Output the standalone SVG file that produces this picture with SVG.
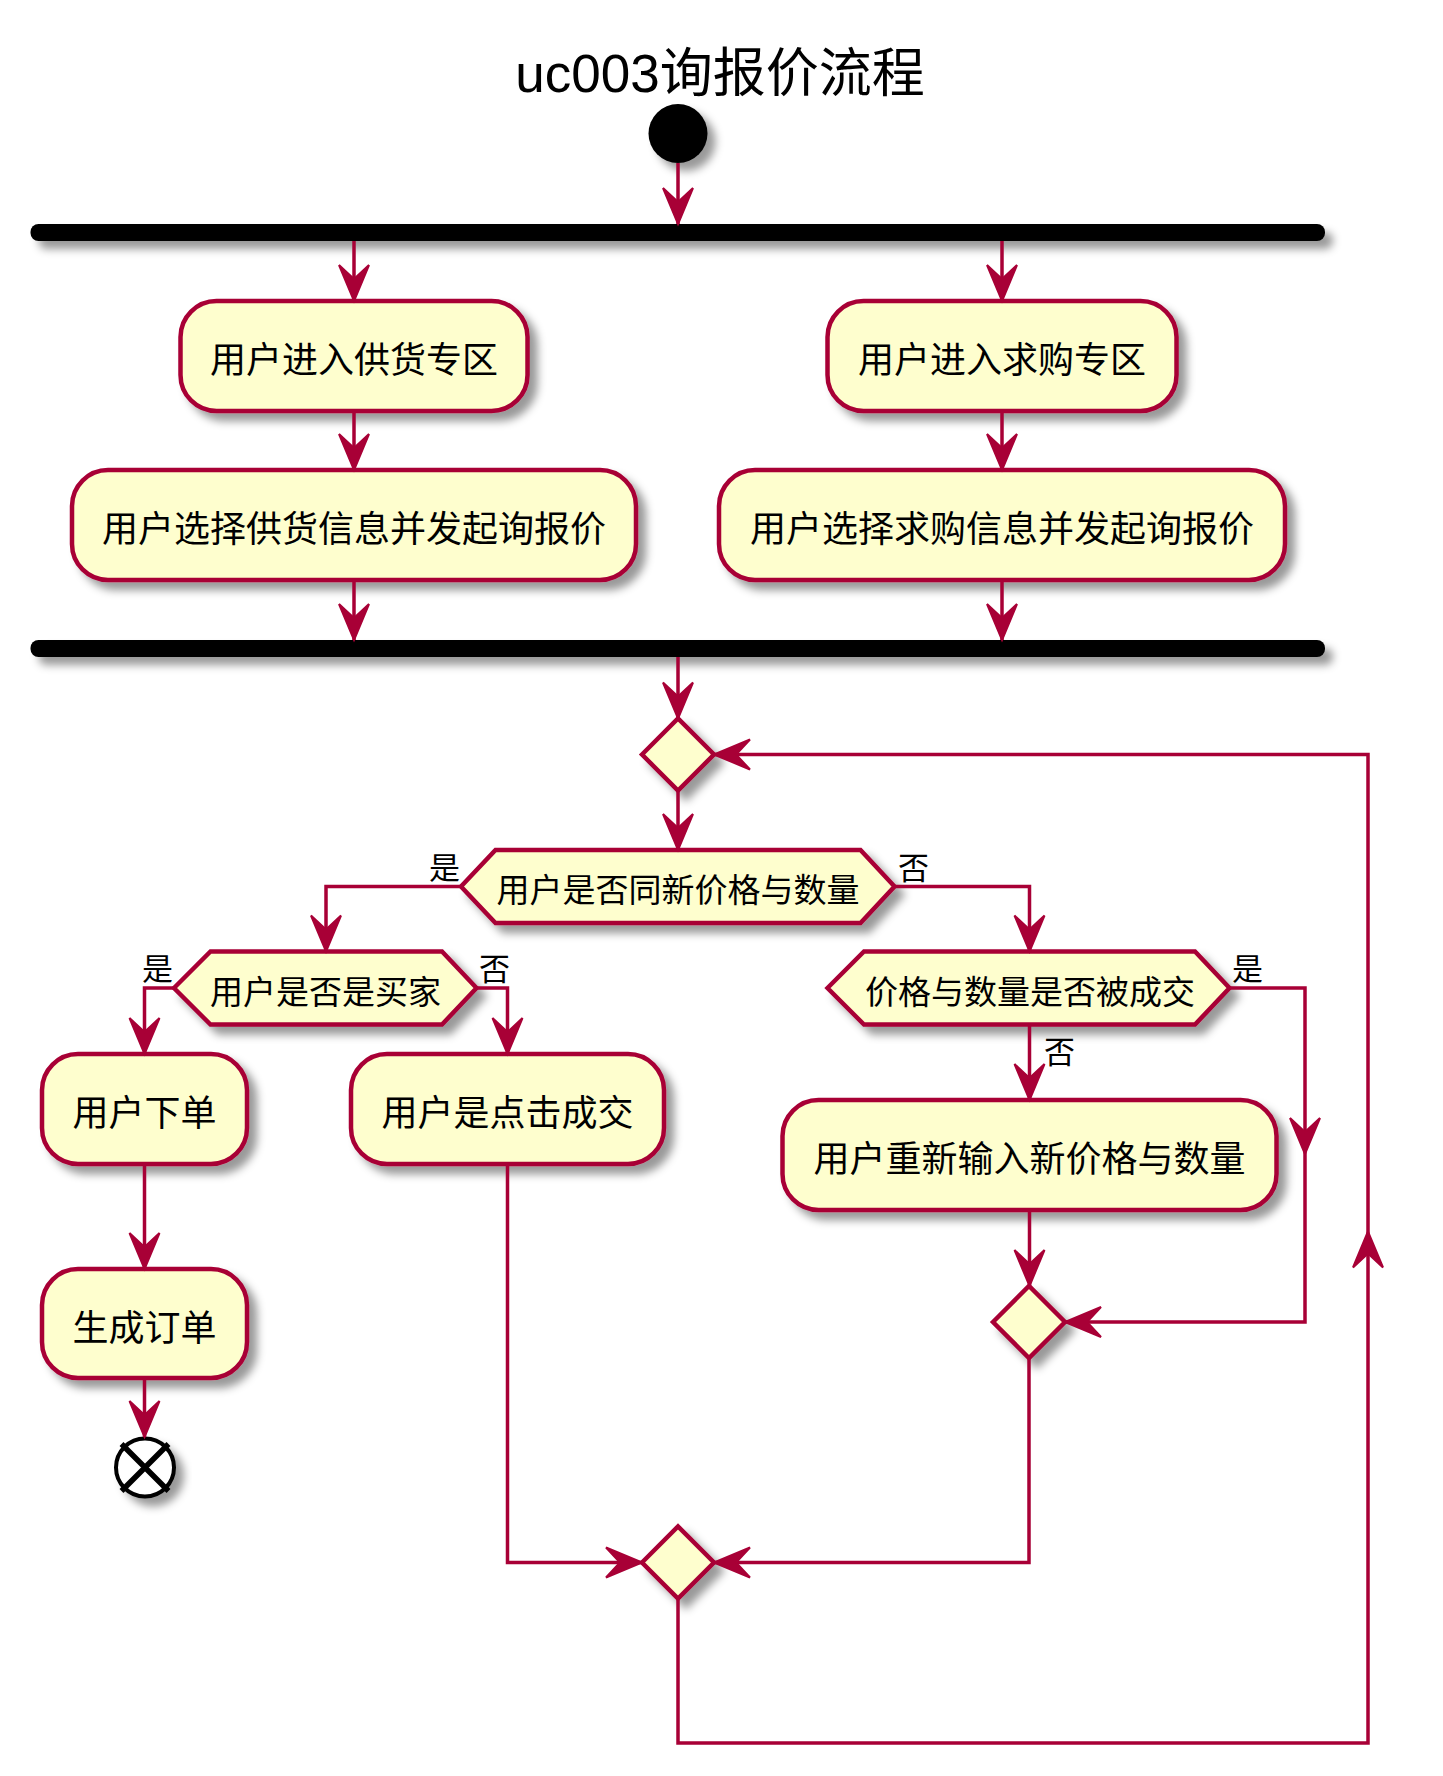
<svg xmlns="http://www.w3.org/2000/svg" width="1443" height="1776" viewBox="0 0 1443 1776">
<defs>
<filter id="sh" x="-20%" y="-50%" width="150%" height="260%">
<feDropShadow dx="8" dy="8" stdDeviation="4.5" flood-color="#000" flood-opacity="0.4"/>
</filter>
<marker id="ah" viewBox="-40 -20 44 40" refX="0" refY="0" markerWidth="44" markerHeight="40" markerUnits="userSpaceOnUse" orient="auto">
<path d="M0,0 L-36,-15 L-22,0 L-36,15 Z" fill="#A80036" stroke="#A80036" stroke-width="2"/>
</marker>
<style>
.box{fill:#FEFECE;stroke:#A80036;stroke-width:4.5;filter:url(#sh)}
.bar{fill:#000;filter:url(#sh)}
.t{font-family:"Noto Sans CJK SC",sans-serif;font-size:36px;text-anchor:middle;fill:#000}
.ht{font-family:"Noto Sans CJK SC",sans-serif;font-size:33px;text-anchor:middle;fill:#000}
.lb{font-family:"Noto Sans CJK SC",sans-serif;font-size:31px;fill:#000}
.ln{fill:none;stroke:#A80036;stroke-width:3.5;marker-end:url(#ah)}
.mh{fill:#A80036;stroke:#A80036;stroke-width:2}
</style>
</defs>
<rect width="1443" height="1776" fill="#fff"/>
<text x="720" y="92" font-family="'Liberation Sans','Noto Sans CJK SC',sans-serif" font-size="53" text-anchor="middle" fill="#000">uc003询报价流程</text>

<g id="start"><circle cx="678" cy="133.5" r="29.5" fill="#000" filter="url(#sh)"/></g>
<g id="fork1"><rect class="bar" x="30.5" y="224" width="1294.5" height="17" rx="8"/></g>
<g id="a1"><rect class="box" x="180.5" y="301" width="347" height="110" rx="36"/><text class="t" x="354" y="373">用户进入供货专区</text></g>
<g id="a2"><rect class="box" x="72" y="470" width="564" height="110" rx="36"/><text class="t" x="354" y="542">用户选择供货信息并发起询报价</text></g>
<g id="a3"><rect class="box" x="827.5" y="301" width="349" height="110" rx="36"/><text class="t" x="1002" y="373">用户进入求购专区</text></g>
<g id="a4"><rect class="box" x="719" y="470" width="566" height="110" rx="36"/><text class="t" x="1002" y="542">用户选择求购信息并发起询报价</text></g>
<g id="fork2"><rect class="bar" x="30.5" y="640" width="1294.5" height="17" rx="8"/></g>
<g id="m1"><polygon class="box" points="642,754.5 678,718.5 714,754.5 678,790.5"/></g>
<g id="q1"><polygon class="box" points="461,886.5 495.5,850 860.5,850 894.5,886.5 860.5,923 495.5,923"/><text class="ht" x="678" y="902">用户是否同新价格与数量</text></g>
<g id="q2"><polygon class="box" points="174,988 210.5,951.5 442,951.5 476.5,988 442,1024.5 210.5,1024.5"/><text class="ht" x="325.5" y="1003.5">用户是否是买家</text></g>
<g id="q3"><polygon class="box" points="827.5,988 864,951.5 1195,951.5 1229.5,988 1195,1024.5 864,1024.5"/><text class="ht" x="1030" y="1003.5">价格与数量是否被成交</text></g>
<g id="a5"><rect class="box" x="42" y="1054" width="205" height="110" rx="36"/><text class="t" x="144.5" y="1126">用户下单</text></g>
<g id="a6"><rect class="box" x="351" y="1054" width="313" height="110" rx="36"/><text class="t" x="507.5" y="1126">用户是点击成交</text></g>
<g id="a7"><rect class="box" x="42" y="1269" width="205" height="109" rx="36"/><text class="t" x="144.5" y="1341">生成订单</text></g>
<g id="a8"><rect class="box" x="782.5" y="1100" width="494" height="110" rx="36"/><text class="t" x="1029.5" y="1172">用户重新输入新价格与数量</text></g>
<g id="m2"><polygon class="box" points="993,1322 1029,1286 1065,1322 1029,1358"/></g>
<g id="m3"><polygon class="box" points="642,1562.5 678,1526.5 714,1562.5 678,1598.5"/></g>
<g id="end"><circle cx="145" cy="1467.5" r="29" fill="#fff" stroke="#000" stroke-width="4" filter="url(#sh)"/><path d="M121.5,1444 L168.5,1491 M168.5,1444 L121.5,1491" stroke="#000" stroke-width="5.5"/></g>

<g id="connectors">
<path class="ln" d="M678,163 V224"/>
<path class="ln" d="M354,241 V301"/>
<path class="ln" d="M1002,241 V301"/>
<path class="ln" d="M354,411 V470"/>
<path class="ln" d="M1002,411 V470"/>
<path class="ln" d="M354,580 V640"/>
<path class="ln" d="M1002,580 V640"/>
<path class="ln" d="M678,657 V718.5"/>
<path class="ln" d="M678,790.5 V850"/>
<path class="ln" d="M461,886.5 H326 V951.5"/>
<path class="ln" d="M894.5,886.5 H1029.5 V951.5"/>
<path class="ln" d="M174,988 H144.5 V1054"/>
<path class="ln" d="M476.5,988 H507.5 V1054"/>
<path class="ln" d="M1029.5,1024.5 V1100"/>
<path class="ln" d="M1229.5,988 H1305 V1322 H1065"/>
<path class="mh" d="M1305,1154 L1290,1118 L1305,1132 L1320,1118 Z"/>
<path class="ln" d="M1029.5,1210 V1286"/>
<path class="ln" d="M144.5,1164 V1269"/>
<path class="ln" d="M144.5,1378 V1437"/>
<path class="ln" d="M507.5,1164 V1562.5 H642"/>
<path class="ln" d="M1029,1358 V1562.5 H714"/>
<path class="ln" d="M678,1598.5 V1743 H1368 V754.5 H714"/>
<path class="mh" d="M1368,1231.5 L1353,1267.5 L1368,1253.5 L1383,1267.5 Z"/>
<text class="lb" x="460" y="878.5" text-anchor="end">是</text>
<text class="lb" x="898" y="878.5">否</text>
<text class="lb" x="173" y="980" text-anchor="end">是</text>
<text class="lb" x="479" y="980">否</text>
<text class="lb" x="1232" y="980">是</text>
<text class="lb" x="1044" y="1062.5">否</text>
</g>
</svg>
